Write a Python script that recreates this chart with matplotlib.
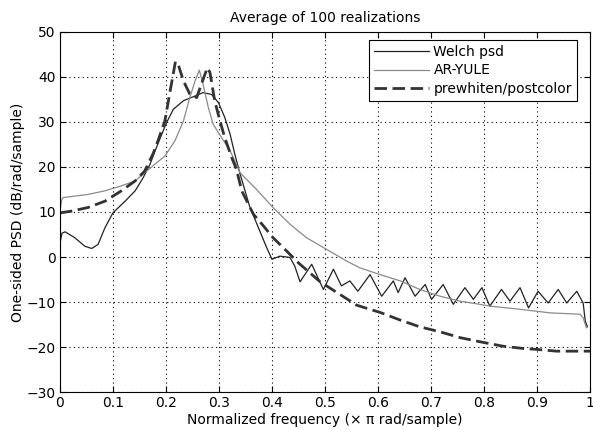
import matplotlib
matplotlib.use("Agg")
import matplotlib.pyplot as plt

# Welch psd (averaged periodogram)
welch_f = [0.0, 0.004, 0.01, 0.028, 0.047, 0.06, 0.072, 0.085, 0.1, 0.123, 0.142, 0.157,
           0.17, 0.182, 0.201, 0.214, 0.233, 0.252, 0.27, 0.286, 0.299, 0.311, 0.321,
           0.33, 0.34, 0.358, 0.377, 0.39, 0.40, 0.415, 0.434, 0.443, 0.453,
           0.475, 0.497, 0.516, 0.531, 0.547, 0.562, 0.585, 0.607, 0.629, 0.638,
           0.651, 0.670, 0.689, 0.701, 0.723, 0.742, 0.764, 0.780, 0.796, 0.811,
           0.833, 0.849, 0.868, 0.884, 0.902, 0.921, 0.940, 0.956, 0.975, 0.987,
           0.991, 0.995]
welch_db = [3.0, 5.3, 5.6, 4.3, 2.4, 1.9, 2.8, 6.5, 9.8, 12.4, 14.7, 17.6,
            20.6, 24.3, 29.8, 32.8, 34.7, 35.6, 36.5, 36.1, 34.3, 31.0, 27.3,
            22.8, 18.4, 11.2, 5.8, 2.1, -0.5, 0.2, -0.1, -2.0, -5.5,
            -1.6, -7.2, -2.7, -6.4, -5.3, -7.6, -3.9, -8.7, -5.3, -7.9,
            -4.6, -8.7, -6.1, -9.4, -6.1, -10.5, -6.8, -9.4, -6.8, -10.9,
            -7.2, -9.8, -6.8, -11.3, -7.6, -10.2, -7.2, -10.2, -7.6, -10.2,
            -14.2, -15.5]

# AR-YULE estimate
yule_f = [0.0, 0.003, 0.006, 0.053, 0.085, 0.116, 0.142, 0.16, 0.179, 0.198,
          0.217, 0.233, 0.245, 0.255, 0.263, 0.27, 0.28, 0.289, 0.305, 0.321,
          0.34, 0.371, 0.402, 0.434, 0.465, 0.503, 0.541, 0.566, 0.604, 0.642,
          0.679, 0.717, 0.755, 0.792, 0.811, 0.868, 0.925, 0.981, 0.987, 0.993]
yule_db = [10.0, 12.5, 13.2, 13.9, 14.7, 15.8, 16.9, 18.7, 20.6, 22.4,
           25.8, 30.2, 35.4, 39.1, 41.5, 38.4, 33.2, 29.5, 26.5, 23.6,
           18.7, 15.0, 11.0, 7.3, 4.3, 1.7, -0.9, -2.4, -3.9, -5.3,
           -7.2, -8.7, -9.8, -10.5, -10.9, -11.6, -12.4, -12.7, -13.5, -15.7]

# prewhiten / postcolor estimate
pw_f = [0.0, 0.022, 0.053, 0.085, 0.116, 0.142, 0.16, 0.176, 0.185, 0.198,
        0.208, 0.218, 0.223, 0.233, 0.245, 0.258, 0.267, 0.278, 0.283, 0.292,
        0.302, 0.311, 0.324, 0.333, 0.343, 0.365, 0.384, 0.402, 0.428, 0.45,
        0.491, 0.56, 0.604, 0.642, 0.679, 0.717, 0.755, 0.792, 0.836, 0.874,
        0.899, 0.937, 0.962, 1.0]
pw_db = [9.8, 10.2, 11.0, 12.4, 14.7, 16.9, 19.1, 23.0, 25.8, 30.2,
         36.9, 43.4, 42.8, 39.1, 36.2, 35.4, 38.4, 42.0, 41.0, 34.7,
         30.2, 26.5, 22.1, 19.5, 14.7, 9.5, 6.9, 4.3, 1.3, -1.3,
         -5.5, -10.7, -12.3, -14.0, -15.5, -16.6, -17.9, -18.8, -19.8, -20.3,
         -20.5, -20.9, -20.9, -20.9]

plt.rcParams['font.family'] = ['DejaVu Sans']

fig = plt.figure(figsize=(5.93, 4.30), dpi=100)
ax = fig.add_axes([0.101, 0.088, 0.894, 0.838])

ax.plot(welch_f, welch_db, color='#222222', lw=0.9, label='Welch psd')
ax.plot(yule_f, yule_db, color='#8a8a8a', lw=0.9, label='AR-YULE')
ax.plot(pw_f, pw_db, color='#333333', lw=2.0, dashes=(4.5, 2), label='prewhiten/postcolor')

ax.set_xlim(0, 1)
ax.set_ylim(-30, 50)
ax.set_xticks([i / 10 for i in range(11)])
ax.set_xticklabels(['0', '0.1', '0.2', '0.3', '0.4', '0.5', '0.6', '0.7', '0.8', '0.9', '1'])
ax.set_yticks(range(-30, 51, 10))
ax.grid(True, color='black', linestyle=(0, (1, 3)), lw=0.8)
ax.tick_params(direction='in', top=True, right=True, labelsize=10, length=4, pad=3)
for s in ax.spines.values():
    s.set_linewidth(0.8)

ax.set_title('Average of 100 realizations', fontsize=10, pad=7)
ax.set_xlabel('Normalized frequency (\u00d7 \u03c0 rad/sample)', fontsize=10, labelpad=2)
ax.set_ylabel('One-sided PSD (dB/rad/sample)', fontsize=10, labelpad=1)

leg = ax.legend(loc='upper right', bbox_to_anchor=(0.975, 0.978), fontsize=10,
                fancybox=False, framealpha=1, edgecolor='black', handlelength=4.0,
                borderaxespad=0, labelspacing=0.35, handletextpad=0.3, borderpad=0.35)
leg.get_frame().set_linewidth(0.8)

fig.savefig('out.png', dpi=100)
